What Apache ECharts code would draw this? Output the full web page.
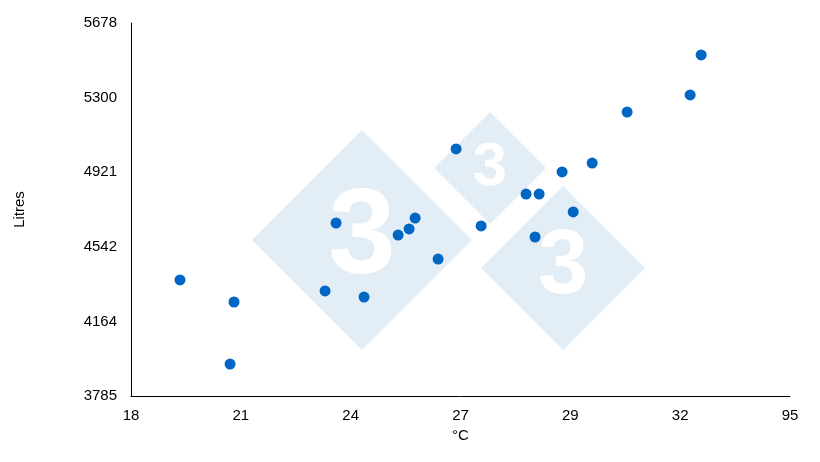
<!DOCTYPE html>
<html><head><meta charset="utf-8">
<script src="https://cdn.jsdelivr.net/npm/echarts@6/dist/echarts.min.js"></script>
<style>html,body{margin:0;padding:0;background:#fff}#c{width:820px;height:462px}</style>
</head><body><div id="c"></div>
<script>
const xTickLabels = ['18','21','24','27','29','32','95'];
const yTickLabels = ['3785','4164','4542','4921','5300','5678'];
// x position in tick-index units, y in litres
const xPos = [0.446,0.938,0.902,1.767,1.867,2.122,2.432,2.532,2.587,2.796,2.960,3.188,3.597,3.716,3.679,3.925,4.026,4.199,4.517,5.091,5.191];
const litres = [4374,4262,3947,4318,4663,4287,4602,4633,4688,4480,5039,4648,4810,4810,4592,4922,4719,4967,5226,5313,5516];
const yMin = 3785, yStep = 378.6;
const data = xPos.map((x,i)=>[x,(litres[i]-yMin)/yStep]);
const font = 'Liberation Sans';
function diamond(cx,cy,r,txt){
  return [{type:'polygon',shape:{points:[[cx,cy-r],[cx+r,cy],[cx,cy+r],[cx-r,cy]]},style:{fill:'#e3edf6'},z:-1,silent:true},
  {type:'text',x:cx,y:cy,style:{text:txt,fill:'#fff',font:'bold '+(r*1.1)+'px '+font,align:'center',verticalAlign:'middle'},z:-1,silent:true}];
}
const chart = echarts.init(document.getElementById('c'));
chart.setOption({
  animation:false,
  graphic:[...diamond(362,240,110,'3'),...diamond(490,168,56,'3'),...diamond(563,268,82,'3')],
  grid:{left:131,right:30,top:23,bottom:66},
  xAxis:{type:'value',min:0,max:6,interval:1,name:'°C',nameLocation:'middle',nameGap:30,
    nameTextStyle:{color:'#000',fontSize:15,fontFamily:font},
    axisLine:{lineStyle:{color:'#000'}},axisTick:{show:false},splitLine:{show:false},
    axisLabel:{color:'#000',fontSize:15,fontFamily:font,margin:12,formatter:v=>xTickLabels[Math.round(v)]}},
  yAxis:{type:'value',min:0,max:5,interval:1,name:'Litres',nameLocation:'middle',nameGap:104,
    nameTextStyle:{color:'#000',fontSize:15,fontFamily:font},
    axisLine:{show:true,lineStyle:{color:'#000'}},axisTick:{show:false},splitLine:{show:false},
    axisLabel:{color:'#000',fontSize:15,fontFamily:font,margin:14,formatter:v=>yTickLabels[Math.round(v)]}},
  series:[{type:'scatter',data:data,symbolSize:11,itemStyle:{color:'#0066c4',opacity:1}}]
});
</script></body></html>
